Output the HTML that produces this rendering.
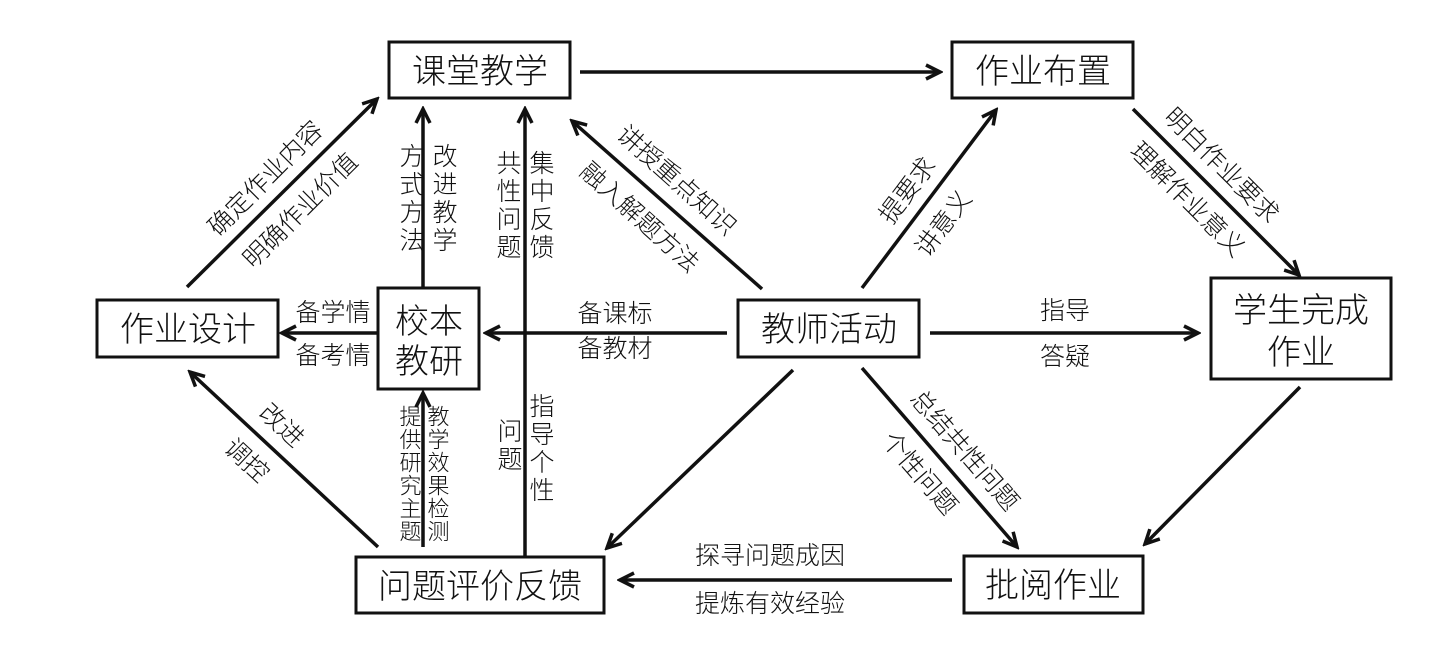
<!DOCTYPE html>
<html><head><meta charset="utf-8"><style>
html,body{margin:0;padding:0;background:#fff}
svg{display:block}
text{font-family:"Liberation Sans","Noto Sans CJK SC",sans-serif;fill:#111;font-weight:300}
.b{font-size:34px}
.l{font-size:25px}
.v{font-size:25px;writing-mode:vertical-rl;text-orientation:upright}
</style></head><body>
<svg width="1456" height="653" viewBox="0 0 1456 653" xmlns="http://www.w3.org/2000/svg">
<defs>
<marker id="a" viewBox="0 0 20 20" refX="17" refY="10" markerWidth="20" markerHeight="20" markerUnits="userSpaceOnUse" orient="auto">
<path d="M3,3 L17,10 L3,17" fill="none" stroke="#111" stroke-width="3.5"/>
</marker>
</defs>
<g fill="none" stroke="#111" stroke-width="3">
<rect x="389" y="42" width="181" height="56"/>
<rect x="952" y="42" width="181" height="56"/>
<rect x="97" y="300" width="181" height="57"/>
<rect x="378" y="288" width="101" height="101"/>
<rect x="738" y="300" width="181" height="57"/>
<rect x="1211" y="278" width="180" height="101"/>
<rect x="356" y="557" width="248" height="56"/>
<rect x="964" y="556" width="179" height="57"/>
</g>
<g stroke="#111" stroke-width="3.5" marker-end="url(#a)">
<line x1="580" y1="72" x2="940" y2="72"/>
<line x1="187" y1="287" x2="377" y2="99"/>
<line x1="423" y1="287" x2="423" y2="109"/>
<line x1="525" y1="557" x2="525" y2="109"/>
<line x1="377" y1="333" x2="282" y2="333"/>
<line x1="727" y1="333" x2="486" y2="333"/>
<line x1="762" y1="289" x2="572" y2="121"/>
<line x1="862" y1="288" x2="996" y2="110"/>
<line x1="930" y1="333" x2="1198" y2="333"/>
<line x1="1133" y1="109" x2="1299" y2="275"/>
<line x1="1300" y1="387" x2="1145" y2="544"/>
<line x1="862" y1="368" x2="1017" y2="547"/>
<line x1="793" y1="370" x2="607" y2="548"/>
<line x1="952" y1="580" x2="620" y2="580"/>
<line x1="378" y1="547" x2="190" y2="372"/>
<line x1="423" y1="547" x2="423" y2="393"/>
</g>
<g class="b" text-anchor="middle">
<text x="480" y="83">课堂教学</text>
<text x="1043" y="83">作业布置</text>
<text x="188" y="341">作业设计</text>
<text x="429" y="333">校本</text>
<text x="429" y="373">教研</text>
<text x="829" y="341">教师活动</text>
<text x="1301" y="322">学生完成</text>
<text x="1301" y="364">作业</text>
<text x="480" y="598">问题评价反馈</text>
<text x="1053" y="597">批阅作业</text>
</g>
<g class="l" text-anchor="middle">
<text transform="translate(265,178) rotate(-45)" y="9">确定作业内容</text>
<text transform="translate(300,210) rotate(-45)" y="9">明确作业价值</text>
<text x="333" y="321">备学情</text>
<text x="333" y="364">备考情</text>
<text x="615" y="322">备课标</text>
<text x="615" y="357">备教材</text>
<text transform="translate(677,180) rotate(42)" y="9">讲授重点知识</text>
<text transform="translate(640,217) rotate(42)" y="9">融入解题方法</text>
<text transform="translate(907,190) rotate(-53)" y="9">提要求</text>
<text transform="translate(943,223) rotate(-53)" y="9">讲意义</text>
<text transform="translate(1222,165) rotate(45)" y="9">明白作业要求</text>
<text transform="translate(1188,199) rotate(45)" y="9">理解作业意义</text>
<text x="1065" y="319">指导</text>
<text x="1065" y="365">答疑</text>
<text transform="translate(965,450) rotate(49)" y="9">总结共性问题</text>
<text transform="translate(920,473) rotate(49)" y="9">个性问题</text>
<text transform="translate(282,425) rotate(43)" y="9">改进</text>
<text transform="translate(247,460) rotate(43)" y="9">调控</text>
<text x="770" y="564">探寻问题成因</text>
<text x="770" y="612">提炼有效经验</text>
</g>
<g class="v">
<text x="410" y="143" style="letter-spacing:3px">方式方法</text>
<text x="443" y="143" style="letter-spacing:3px">改进教学</text>
<text x="507" y="150" style="letter-spacing:3px">共性问题</text>
<text x="540" y="150" style="letter-spacing:3px">集中反馈</text>
<text x="409" y="405" style="font-size:22px;letter-spacing:1px">提供研究主题</text>
<text x="437" y="405" style="font-size:22px;letter-spacing:1px">教学效果检测</text>
<text x="508" y="418" style="letter-spacing:3px">问题</text>
<text x="540" y="393" style="letter-spacing:3px">指导个性</text>
</g>
</svg>
</body></html>
